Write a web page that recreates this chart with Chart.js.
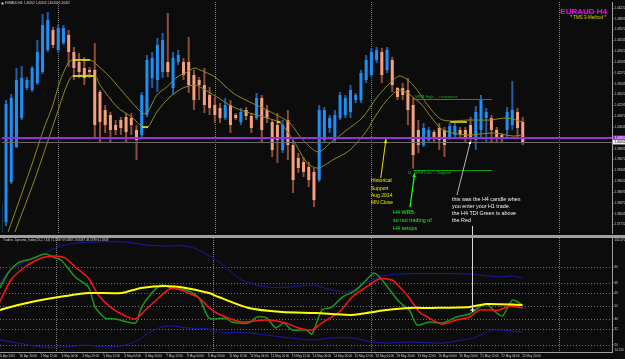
<!DOCTYPE html>
<html><head><meta charset="utf-8">
<script src="https://cdn.jsdelivr.net/npm/chart.js@4.4.1/dist/chart.umd.min.js"></script>
<style>
html,body{margin:0;padding:0;background:#0c0c0c;overflow:hidden;}
#wrap{position:relative;width:625px;height:359px;background:#0c0c0c;}
#c1{position:absolute;left:0;top:0;width:625px;height:235px;}
#sep{position:absolute;left:0;top:235px;width:625px;height:3px;background:#a0a0a0;}
#c2{position:absolute;left:0;top:238px;width:625px;height:121px;}
</style></head><body>
<div id="wrap">
<canvas id="c1" width="625" height="235"></canvas>
<div id="sep"></div>
<canvas id="c2" width="625" height="121"></canvas>
</div>
<script>
// ---------- DATA ----------
const candleHigh = [1.3846,1.4146,1.4164,1.4242,1.4248,1.4215,1.4248,1.4326,1.4404,1.4410,
1.4365,1.4371,1.4371,1.4356,1.4305,1.4287,1.4275,1.4245,1.4317,1.4176,
1.4131,1.4110,1.4086,1.4095,1.4107,1.4107,1.4071,1.4170,1.4281,1.4290,
1.4332,1.4347,1.4407,1.4290,1.4296,1.4272,1.4335,1.4236,1.4215,1.4242,
1.4185,1.4155,1.4137,1.4152,1.4146,1.4107,1.4122,1.4125,1.4107,1.4167,
1.4161,1.4131,1.4086,1.4107,1.4086,1.4116,1.4026,1.3987,1.3975,1.3960,
1.3942,1.4131,1.4125,1.4101,1.4116,1.4170,1.4161,1.4191,1.4167,1.4236,
1.4281,1.4302,1.4305,1.4302,1.4305,1.4275,1.4185,1.4197,1.4212,1.4152,
1.4086,1.4077,1.4065,1.4056,1.4077,1.4065,1.4077,1.4077,1.4065,1.4065,
1.4095,1.4128,1.4161,1.4122,1.4101,1.4065,1.4047,1.4125,1.4203,1.4122,1.4095];
const candleOpen = [1.3750,1.3780,1.3900,1.4005,1.4092,1.4182,1.4176,1.4197,1.4230,1.4296,
1.4356,1.4296,1.4317,1.4341,1.4290,1.4260,1.4242,1.4236,1.4236,1.4170,
1.4116,1.4101,1.4071,1.4086,1.4095,1.4092,1.4056,1.4041,1.4101,1.4212,
1.4206,1.4230,1.4260,1.4182,1.4260,1.4260,1.4260,1.4221,1.4206,1.4191,
1.4161,1.4131,1.4122,1.4092,1.4131,1.4101,1.4080,1.4116,1.4098,1.4092,
1.4152,1.4116,1.4080,1.4071,1.3996,1.4086,1.4011,1.3972,1.3960,1.3945,
1.3930,1.3906,1.4026,1.4062,1.4026,1.4092,1.4101,1.4110,1.4146,1.4146,
1.4206,1.4221,1.4266,1.4290,1.4236,1.4266,1.4182,1.4182,1.4176,1.4131,
1.4056,1.4011,1.4026,1.4050,1.4062,1.4056,1.4032,1.4041,1.4056,1.4056,
1.4071,1.4026,1.4056,1.4092,1.4092,1.4056,1.4041,1.4056,1.4071,1.4110,1.4080];
const candleClose = [1.3837,1.4134,1.4152,1.4206,1.4212,1.4206,1.4242,1.4290,1.4371,1.4386,
1.4311,1.4362,1.4362,1.4290,1.4242,1.4230,1.4212,1.4230,1.4071,1.4080,
1.4071,1.4056,1.4056,1.4062,1.4050,1.4071,1.4026,1.4161,1.4266,1.4272,
1.4311,1.4326,1.4230,1.4272,1.4281,1.4221,1.4191,1.4146,1.4191,1.4131,
1.4122,1.4101,1.4092,1.4131,1.4071,1.4092,1.4110,1.4098,1.4062,1.4152,
1.4056,1.4092,1.3996,1.4026,1.4071,1.4011,1.3906,1.3942,1.3930,1.3906,
1.3846,1.4116,1.4116,1.4092,1.4101,1.4161,1.4152,1.4176,1.4161,1.4227,
1.4266,1.4290,1.4296,1.4221,1.4296,1.4191,1.4155,1.4161,1.4116,1.3981,
1.4011,1.4062,1.4056,1.4032,1.4026,1.4011,1.4068,1.4068,1.4044,1.4032,
1.4035,1.4110,1.4146,1.4110,1.4056,1.4032,1.4032,1.4110,1.4116,1.4062,1.4020];
const candleLow = [1.3738,1.3768,1.3894,1.4002,1.4086,1.4176,1.4170,1.4191,1.4224,1.4290,
1.4302,1.4287,1.4311,1.4245,1.4206,1.4212,1.4191,1.4212,1.4035,1.4017,
1.4047,1.4020,1.4041,1.4041,1.4020,1.4041,1.3966,1.4035,1.4095,1.4182,
1.4170,1.4212,1.4215,1.4161,1.4251,1.4206,1.4167,1.4116,1.4146,1.4107,
1.4101,1.4077,1.4077,1.4086,1.4047,1.4086,1.4071,1.4086,1.4047,1.4086,
1.4020,1.4077,1.3975,1.3957,1.3987,1.3966,1.3867,1.3927,1.3915,1.3885,
1.3825,1.3900,1.4020,1.4047,1.4017,1.4086,1.4092,1.4092,1.4137,1.4137,
1.4197,1.4215,1.4257,1.4197,1.4227,1.4170,1.4146,1.4146,1.4071,1.3940,
1.3987,1.4005,1.4017,1.4017,1.3996,1.3975,1.4026,1.4035,1.4035,1.4020,
1.4017,1.3996,1.4032,1.4017,1.4020,1.4017,1.4017,1.4035,1.4056,1.4035,1.4011];

// olive envelope lines (candle index, price)
const maUpperIdx = [1.4,5.6,8.5,9.8,11.3,12.9,13.8,17.1,18.0,20.9,24.2,27.1,28.0,29.9,31.8,33.8,35.7,37.2,38.2,41.0,44.5,47.7,51.0,53.9,55.4,57.9,60.8,63.1,66.3,69.4,72.1,74.6,76.5,79.0,82.2,84.7,89.9,93.7,97.0,100.0];
const maUpperVal = [1.3750,1.3936,1.4071,1.4122,1.4200,1.4257,1.4266,1.4266,1.4257,1.4215,1.4155,1.4107,1.4107,1.4161,1.4185,1.4215,1.4230,1.4242,1.4236,1.4215,1.4167,1.4140,1.4116,1.4092,1.4077,1.4026,1.3990,1.4017,1.4056,1.4095,1.4155,1.4197,1.4218,1.4191,1.4122,1.4086,1.4086,1.4086,1.4092,1.4080];
const maLowerIdx = [2.7,6.6,9.4,11.0,12.3,13.3,13.8,18.0,19.0,22.3,25.3,27.1,28.2,29.9,32.4,34.9,37.2,38.2,41.4,44.5,47.7,51.0,53.5,56.0,58.7,60.8,63.6,66.9,70.2,71.3,74.0,76.5,80.3,82.6,84.7,89.3,94.3,98.1,100.0];
const maLowerVal = [1.3750,1.3912,1.4041,1.4116,1.4176,1.4212,1.4218,1.4218,1.4191,1.4125,1.4092,1.4065,1.4065,1.4110,1.4155,1.4182,1.4191,1.4185,1.4155,1.4125,1.4107,1.4092,1.4077,1.4026,1.3957,1.3942,1.3966,1.3996,1.4056,1.4086,1.4146,1.4176,1.4137,1.4092,1.4056,1.4041,1.4047,1.4038,1.4041];
// short bright-yellow flat stretches on the envelope (start idx, end idx, price)
const flatFrom = [13.8,13.8,27.1,52.9,86.1];
const flatTo = [17.1,18.0,28.2,53.6,89.3];
const flatVal = [1.4266,1.4218,1.4065,1.4080,1.4080];

// Traders Dynamic Index (candle index, value)
const tdiUpperIdx = [0.2,1.8,5.0,8.1,11.3,14.6,19.0,24.2,28.0,31.8,35.7,38.2,42.0,46.4,51.0,56.0,59.8,63.6,66.3,68.8,72.6,76.5,89.3,95.6,98.1,100.0];
const tdiUpperVal = [67.7,76.2,84.0,89.4,95.5,98.6,99.4,99.4,97.1,96.3,96.3,93.2,84.0,70.1,64.7,64.7,66.2,62.3,60.8,64.7,72.4,74.7,74.7,72.4,73.1,71.6];
const tdiLowerIdx = [0.2,3.7,8.1,12.7,16.5,20.3,24.2,26.7,28.6,31.1,33.0,36.2,40.1,42.0,47.7,54.1,59.8,63.6,67.5,71.3,74.0,78.4,84.7,88.5,91.2,94.3,100.0];
const tdiLowerVal = [23.8,21.4,18.4,18.4,19.9,18.4,19.9,23.8,29.2,33.8,34.6,33.0,32.3,29.9,29.2,26.1,23.8,25.3,25.3,22.2,21.4,22.2,21.4,23.8,26.1,31.5,29.9];
const tdiBaseIdx = [0.2,3.7,8.1,12.7,17.1,23.4,27.2,31.8,35.7,40.1,42.0,47.7,54.1,60.6,66.9,70.2,74.0,78.4,82.8,89.9,93.1,100.0];
const tdiBaseVal = [46.9,50.8,54.6,57.7,60.0,60.0,63.9,65.4,63.9,60.0,56.9,48.5,45.4,44.6,43.1,44.6,46.9,48.5,48.5,49.2,51.5,50.8];
const tdiRsiIdx = [0.2,1.8,3.7,6.2,8.9,10.8,11.9,14.6,17.1,18.4,20.3,22.3,26.1,27.2,29.2,31.1,33.0,35.7,38.2,40.1,41.4,43.3,44.5,47.7,49.3,51.2,52.9,54.4,56.0,58.7,59.8,61.7,63.6,65.6,68.2,70.2,71.7,73.2,75.1,76.5,78.4,79.9,82.2,84.7,87.4,89.9,91.8,93.1,95.1,96.2,98.1,100.0];
const tdiRsiVal = [63.9,75.5,83.2,86.3,90.1,87.0,85.5,72.4,64.7,49.2,40.7,40.0,36.9,48.5,60.0,66.2,63.9,62.3,56.2,40.7,40.0,40.7,37.7,36.9,41.5,40.7,33.0,36.9,31.5,31.5,28.4,46.9,49.2,56.9,62.3,70.1,75.5,70.1,60.0,53.1,46.9,35.3,37.7,36.9,41.5,43.8,49.2,51.5,44.6,42.3,54.6,50.8];
const tdiSigIdx = [0.2,2.3,5.0,8.1,10.8,12.7,14.6,17.1,19.0,21.5,24.2,26.1,28.0,30.5,33.0,35.7,38.2,40.7,43.3,46.4,51.0,54.8,57.3,59.8,61.7,65.0,67.5,70.2,72.6,75.1,77.1,78.4,80.3,82.2,84.7,87.4,89.9,91.8,95.6,97.6,100.0];
const tdiSigVal = [53.1,70.1,80.1,87.0,88.6,87.0,80.1,71.6,58.5,48.5,42.3,40.0,46.9,56.2,63.9,60.8,56.2,46.9,41.5,37.7,39.2,36.9,33.0,31.5,36.9,45.4,56.9,64.7,70.8,70.1,62.3,56.2,45.4,40.7,36.1,39.2,41.5,46.9,46.9,50.0,48.5];

// tick labels
const priceTicks = [1.44220,1.43895,1.43570,1.43245,1.42920,1.42595,1.42270,1.41945,1.41620,1.41295,1.40970,1.40645,1.40320,1.39995,1.39670,1.39345,1.39020,1.38695,1.38370,1.38045,1.37720];
const tdiLevels = [20,32,40,50,60,68,80];
const timeLabels = ["30 Apr 2015","30 Apr 20:00","1 May 12:00","4 May 04:00","4 May 20:00","5 May 12:00","6 May 04:00","6 May 20:00","7 May 12:00","8 May 04:00","8 May 20:00","11 May 12:00","12 May 04:00","12 May 20:00","13 May 12:00","14 May 04:00","14 May 20:00","15 May 12:00","18 May 04:00","18 May 20:00","19 May 12:00","20 May 04:00","20 May 20:00","21 May 12:00","22 May 04:00","22 May 20:00"];
const timeLabelIdx = [0,4,8,12,16,20,24,28,32,36,40,44,48,52,56,60,64,68,72,76,80,84,88,92,96,100];

// annotation anchors (candle index / price / TDI value)
const weekSeparators = [11,41,71,107];
const supportPrice = 1.4032;
const bidPrice = 1.40202;
const wrbHighPrice = 1.4149, wrbLowPrice = 1.3936, wrbFrom = 79.0, wrbTo = 94.1;
const yellowArrow = [72.8,1.3912,73.8,1.4029];
const greenArrow = [78.4,1.3825,79.3,1.3927];
const entryPointer = [87.4,1.3861,89.9,1.4017];
const entryIdx = 90.3, entryTopPrice = 1.3768, entryTdi = 46.9;

// ---------- RENDER ----------
const FONT = "'Liberation Sans', Arial, sans-serif";
Chart.defaults.font.family = FONT;
const XMIN = 0.23, XMAX = 117.1;

function txt(ctx, s, x, y, size, color, o) {
  o = o || {};
  ctx.save();
  ctx.font = (o.bold ? 'bold ' : '') + size + 'px ' + FONT;
  ctx.fillStyle = color;
  ctx.textAlign = o.align || 'left';
  ctx.textBaseline = o.base || 'top';
  ctx.fillText(s, x, y);
  ctx.restore();
}
function seg(ctx, x1, y1, x2, y2) { ctx.beginPath(); ctx.moveTo(x1, y1); ctx.lineTo(x2, y2); ctx.stroke(); }
function arrow(ctx, x1, y1, x2, y2, color, w) {
  ctx.save();
  ctx.strokeStyle = color; ctx.fillStyle = color; ctx.lineWidth = w;
  seg(ctx, x1, y1, x2, y2);
  const a = Math.atan2(y2 - y1, x2 - x1), L = 4.5;
  ctx.beginPath(); ctx.moveTo(x2, y2);
  ctx.lineTo(x2 - L * Math.cos(a - 0.4), y2 - L * Math.sin(a - 0.4));
  ctx.lineTo(x2 - L * Math.cos(a + 0.4), y2 - L * Math.sin(a + 0.4));
  ctx.closePath(); ctx.fill();
  ctx.restore();
}
function separators(chart) {
  const {ctx, chartArea: a, scales: {x}} = chart;
  ctx.save();
  ctx.strokeStyle = '#7c7c7c'; ctx.lineWidth = 1; ctx.setLineDash([1, 1]);
  weekSeparators.forEach(i => {
    const px = Math.round(x.getPixelForValue(i)) + 0.5;
    seg(ctx, px, a.top, px, a.bottom);
  });
  ctx.restore();
}

const bull = candleOpen.map((o, i) => candleClose[i] >= o);
const idx = candleOpen.map((_, i) => i);
const pts = (xs, ys) => xs.map((v, k) => ({x: v, y: ys[k]}));
const flatPts = [];
flatFrom.forEach((f, k) => { flatPts.push({x: f, y: flatVal[k]}, {x: flatTo[k], y: flatVal[k]}, {x: flatTo[k] + 0.01, y: null}); });

const mainDeco = {
  id: 'mainDeco',
  beforeDatasetsDraw(chart) { separators(chart); },
  afterDatasetsDraw(chart) {
    const {ctx, chartArea: a, scales: {x, y}} = chart;
    const X = v => x.getPixelForValue(v), Y = v => y.getPixelForValue(v);
    ctx.save();
    ctx.strokeStyle = '#6a6a6a'; ctx.lineWidth = 1;
    seg(ctx, a.left, Math.round(Y(bidPrice)) + 0.5, a.right, Math.round(Y(bidPrice)) + 0.5);
    ctx.strokeStyle = '#9a2fd8'; ctx.lineWidth = 2;
    seg(ctx, a.left, Y(supportPrice), a.right, Y(supportPrice));
    ctx.strokeStyle = '#0d9a0d'; ctx.lineWidth = 1;
    seg(ctx, X(wrbFrom), Math.round(Y(wrbHighPrice)) + 0.5, X(wrbTo), Math.round(Y(wrbHighPrice)) + 0.5);
    seg(ctx, X(wrbFrom), Math.round(Y(wrbLowPrice)) + 0.5, X(wrbTo), Math.round(Y(wrbLowPrice)) + 0.5);
    ctx.restore();
    txt(ctx, 'WRB High ... resistance', X(wrbFrom) + 2, Y(wrbHighPrice) - 0.5, 4, '#17b317', {base: 'bottom'});
    txt(ctx, '13  WRB Low ... Support', X(wrbFrom) - 6, Y(wrbLowPrice) + 0.5, 4, '#17b317');

    arrow(ctx, X(yellowArrow[0]), Y(yellowArrow[1]), X(yellowArrow[2]), Y(yellowArrow[3]), '#e6e600', 1);
    arrow(ctx, X(greenArrow[0]), Y(greenArrow[1]), X(greenArrow[2]), Y(greenArrow[3]), '#1aff1a', 1.3);
    ctx.save();
    ctx.strokeStyle = '#b8b8b8'; ctx.lineWidth = 1;
    seg(ctx, X(entryPointer[0]), Y(entryPointer[1]), X(entryPointer[2]), Y(entryPointer[3]));
    ctx.fillStyle = '#ffffff';
    ctx.fillRect(X(entryPointer[2]) - 1, Y(entryPointer[3]) - 1, 2, 2);
    ctx.strokeStyle = '#d8d8d8';
    const ex = Math.round(X(entryIdx)) + 0.5;
    seg(ctx, ex, Y(entryTopPrice), ex, a.bottom + 2);
    ctx.restore();

    const yl = '#e8e800';
    ['Historical', 'Support', 'Aug 2014', 'MN Close'].forEach((s, k) => txt(ctx, s, 371, 178.5 + k * 7.3, 5, yl));
    ['H4 WRB,', 'so not trading of', 'H4 setups'].forEach((s, k) => txt(ctx, s, 393, 210 + k * 7.8, 5.4, '#22ee22'));
    ['this was the H4 candle when', 'you enter your H1 trade.', 'the H4 TDI Green is above', 'the Red'].forEach((s, k) => txt(ctx, s, 452, 196.5 + k * 7, 5.4, '#f2f2f2'));

    txt(ctx, 'EURAUD H4', 607, 13.5, 8, '#ff00ff', {bold: true, align: 'right', base: 'alphabetic'});
    txt(ctx, '* TMS 3-Method *', 606, 19, 4.5, '#dede00', {align: 'right', base: 'alphabetic'});
    ctx.save(); ctx.fillStyle = '#e0e0e0'; ctx.fillRect(1.5, 2.5, 2, 2); ctx.restore();
    txt(ctx, 'EURAUD,H4  1.40202 1.40202 1.40202 1.40202', 5, 2, 3, '#dcdcdc');

    ctx.save();
    ctx.fillStyle = '#9a2fd8';
    ctx.fillRect(a.right + 1, Y(supportPrice) - 2.5, 625 - a.right, 5);
    ctx.fillStyle = '#f0f0f0';
    ctx.fillRect(a.right + 1, Y(bidPrice) - 2, 625 - a.right, 4.5);
    ctx.restore();
    txt(ctx, supportPrice.toFixed(5), a.right + 2.5, Y(supportPrice), 3, '#ffffff', {base: 'middle'});
    txt(ctx, bidPrice.toFixed(5), a.right + 2.5, Y(bidPrice) + 0.3, 3, '#000000', {base: 'middle'});
  }
};

new Chart(document.getElementById('c1'), {
  type: 'bar',
  data: {
    datasets: [
      {type: 'line', label: 'MA flat', data: flatPts, borderColor: '#f2f200', borderWidth: 1.3, pointRadius: 0, spanGaps: false, order: -1},
      {type: 'line', label: 'MA high', data: pts(maUpperIdx, maUpperVal), borderColor: '#8e8c22', borderWidth: 1, pointRadius: 0, tension: 0.3, order: 0},
      {type: 'line', label: 'MA low', data: pts(maLowerIdx, maLowerVal), borderColor: '#8e8c22', borderWidth: 1, pointRadius: 0, tension: 0.3, order: 0},
      {type: 'bar', label: 'body', data: idx.map(i => ({x: i, y: [candleOpen[i], candleClose[i]]})),
        backgroundColor: bull.map(b => b ? '#1e8ff5' : '#f6a07e'), grouped: false, maxBarThickness: 3, minBarLength: 1, borderWidth: 0, order: 1},
      {type: 'bar', label: 'range', data: idx.map(i => ({x: i, y: [candleLow[i], candleHigh[i]]})),
        backgroundColor: bull.map(b => b ? '#1f5fa6' : '#8e4f38'), grouped: false, maxBarThickness: 2, borderWidth: 0, order: 2}
    ]
  },
  options: {
    responsive: false, animation: false, events: [],
    layout: {padding: {left: 2, right: 0, top: 2, bottom: 2}},
    plugins: {legend: {display: false}, tooltip: {enabled: false}},
    scales: {
      x: {type: 'linear', min: XMIN, max: XMAX, offset: false, display: false},
      y: {
        position: 'right', min: 1.3747, max: 1.4440, beginAtZero: false,
        afterBuildTicks: s => { s.ticks = priceTicks.map(v => ({value: v})); },
        afterFit: s => { s.width = 13; s.paddingTop = 0; s.paddingBottom = 0; },
        ticks: {font: {size: 3}, color: '#cfcfcf', padding: 1, callback: v => Number(v).toFixed(5)},
        grid: {drawOnChartArea: false, drawTicks: true, tickLength: 1.5, color: '#a0a0a0'},
        border: {display: true, color: '#a0a0a0'}
      }
    }
  },
  plugins: [mainDeco]
});

const tdiDeco = {
  id: 'tdiDeco',
  beforeDatasetsDraw(chart) {
    const {ctx, chartArea: a, scales: {y}} = chart;
    ctx.save();
    ctx.strokeStyle = '#6c6c6c'; ctx.lineWidth = 1; ctx.setLineDash([1, 2]);
    tdiLevels.forEach(v => { const py = Math.round(y.getPixelForValue(v)) + 0.5; seg(ctx, a.left, py, a.right, py); });
    ctx.restore();
    separators(chart);
  },
  afterDatasetsDraw(chart) {
    const {ctx, chartArea: a, scales: {x, y}} = chart;
    const ex = Math.round(x.getPixelForValue(entryIdx)) + 0.5, ey = y.getPixelForValue(entryTdi);
    ctx.save();
    ctx.strokeStyle = '#d8d8d8'; ctx.lineWidth = 1;
    seg(ctx, ex, a.top, ex, ey);
    ctx.strokeStyle = '#ffffff'; ctx.lineWidth = 1.2;
    seg(ctx, ex - 2, ey, ex + 2, ey); seg(ctx, ex, ey - 2, ex, ey + 2);
    ctx.restore();
    txt(ctx, 'Traders_Dynamic_Index(13,2,7,34) 71.5897 69.0887 29.8487 49.5799 61.5843', 3, 1, 3, '#d0d0d0');
    txt(ctx, y.max.toFixed(3), a.right + 2.5, 0.5, 3, '#cfcfcf');
    txt(ctx, y.min.toFixed(3), a.right + 2.5, a.bottom - 3.5, 3, '#cfcfcf');
  }
};

const tdiLine = (label, xs, ys, color, w, order) => ({label, data: pts(xs, ys), borderColor: color, borderWidth: w, pointRadius: 0, tension: 0.25, order});

new Chart(document.getElementById('c2'), {
  type: 'line',
  data: {
    datasets: [
      tdiLine('Volatility band high', tdiUpperIdx, tdiUpperVal, '#1a1aa6', 1, 4),
      tdiLine('Volatility band low', tdiLowerIdx, tdiLowerVal, '#1a1aa6', 1, 4),
      tdiLine('RSI price line', tdiRsiIdx, tdiRsiVal, '#1c961c', 1.5, 3),
      tdiLine('Trade signal line', tdiSigIdx, tdiSigVal, '#ff1414', 1.5, 2),
      tdiLine('Market base line', tdiBaseIdx, tdiBaseVal, '#ffff00', 2, 1)
    ]
  },
  options: {
    responsive: false, animation: false, events: [],
    layout: {padding: 0},
    plugins: {legend: {display: false}, tooltip: {enabled: false}},
    scales: {
      x: {
        type: 'linear', min: XMIN, max: XMAX, offset: false, position: 'bottom',
        afterBuildTicks: s => { s.ticks = timeLabelIdx.map(v => ({value: v})); },
        afterFit: s => { s.height = 7; s.paddingLeft = 0; s.paddingRight = 0; },
        ticks: {font: {size: 3}, color: '#cfcfcf', align: 'start', maxRotation: 0, minRotation: 0, autoSkip: false, padding: 1,
          callback: (v, i) => timeLabels[i]},
        grid: {drawOnChartArea: false, drawTicks: true, tickLength: 1.5, color: '#a0a0a0'},
        border: {display: true, color: '#a0a0a0'}
      },
      y: {
        position: 'right', min: 14.51, max: 102.47,
        afterBuildTicks: s => { s.ticks = tdiLevels.map(v => ({value: v})); },
        afterFit: s => { s.width = 13; s.paddingTop = 0; s.paddingBottom = 0; },
        ticks: {font: {size: 3}, color: '#cfcfcf', padding: 1, callback: v => String(v)},
        grid: {drawOnChartArea: false, drawTicks: true, tickLength: 1.5, color: '#a0a0a0'},
        border: {display: true, color: '#a0a0a0'}
      }
    }
  },
  plugins: [tdiDeco]
});
</script>
</body></html>
